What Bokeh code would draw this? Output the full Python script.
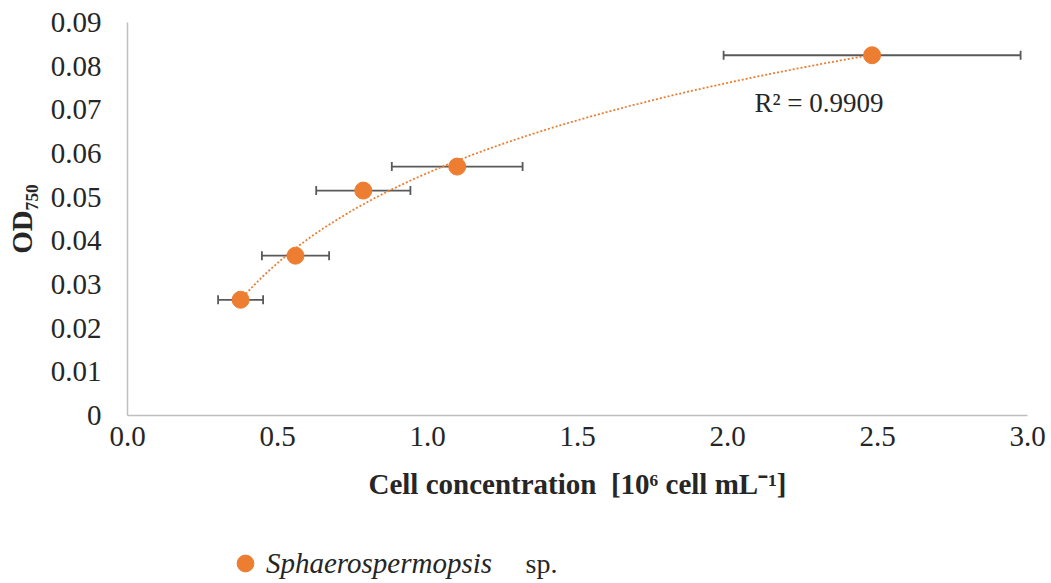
import numpy as np
from bokeh.plotting import figure
from bokeh.models import (ColumnDataSource, Whisker, TeeHead, Label, Legend, LegendItem,
                          FixedTicker, Range1d)
from bokeh.embed import file_html
from bokeh.resources import INLINE

# Cell concentration (10^6 cell/mL) with its standard deviation, and OD750
cell_conc = [0.377, 0.560, 0.786, 1.099, 2.482]
cell_sd = [0.075, 0.112, 0.157, 0.218, 0.495]
od750 = [0.0265, 0.0366, 0.0515, 0.0570, 0.0825]
series_name = "Sphaerospermopsis"
series_suffix = "sp."
r2_text = "R\u00b2 = 0.9909"
x_title = "Cell concentration\u00a0 [10\u2076 cell mL\u207b\u00b9]"
y_title = "OD\u2087\u2085\u2080"

x_ticks = [0.0, 0.5, 1.0, 1.5, 2.0, 2.5, 3.0]
y_ticks = [0.0, 0.01, 0.02, 0.03, 0.04, 0.05, 0.06, 0.07, 0.08, 0.09]
y_tick_labels = ["0", "0.01", "0.02", "0.03", "0.04", "0.05", "0.06", "0.07", "0.08", "0.09"]
X_MIN, X_MAX = 0.0, 3.0
Y_MIN, Y_MAX = 0.0, 0.09

ORANGE = "#ED7D31"
GREY = "#595959"
TEXT = "#262626"
SERIF = "Liberation Serif"

# Page geometry: the data area sits inside the canvas with room for
# tick labels, titles and the legend; the axes are pinned at zero.
W, H = 1051, 583
PLOT_L, PLOT_R, PLOT_T, PLOT_B = 127, 1027, 22, 415
x_scale = (PLOT_R - PLOT_L) / (X_MAX - X_MIN)
y_scale = (PLOT_B - PLOT_T) / (Y_MAX - Y_MIN)
x_range = Range1d(X_MIN - PLOT_L / x_scale, X_MAX + (W - PLOT_R) / x_scale)
y_range = Range1d(Y_MIN - (H - PLOT_B) / y_scale, Y_MAX + PLOT_T / y_scale)

src = ColumnDataSource(dict(
    x=cell_conc, y=od750,
    lo=[c - s for c, s in zip(cell_conc, cell_sd)],
    hi=[c + s for c, s in zip(cell_conc, cell_sd)],
))

p = figure(width=W, height=H, output_backend="svg", toolbar_location=None,
           x_range=x_range, y_range=y_range, min_border=0,
           min_border_left=0, min_border_right=0, min_border_top=0, min_border_bottom=0)
p.outline_line_color = None
p.xgrid.visible = False
p.ygrid.visible = False
p.background_fill_color = "white"
p.border_fill_color = "white"

for ax in (p.xaxis[0], p.yaxis[0]):
    ax.fixed_location = 0
    ax.axis_line_color = "#BFBFBF"
    ax.axis_line_width = 1.5
    ax.major_tick_line_color = None
    ax.minor_tick_line_color = None
    ax.major_tick_out = 0
    ax.major_tick_in = 0
    ax.minor_tick_out = 0
    ax.major_label_text_font = SERIF
    ax.major_label_text_font_size = "29px"
    ax.major_label_text_color = TEXT
    ax.axis_label_text_font = SERIF
    ax.axis_label_text_font_style = "bold"
    ax.axis_label_text_color = TEXT

p.xaxis.bounds = (X_MIN, X_MAX)
p.xaxis.ticker = FixedTicker(ticks=x_ticks)
p.xaxis.major_label_overrides = {t: f"{t:.1f}" for t in x_ticks}
p.xaxis.major_label_standoff = 11
p.xaxis.axis_label = x_title
p.xaxis.axis_label_text_font_size = "29px"
p.xaxis.axis_label_standoff = 19

p.yaxis.bounds = (Y_MIN, Y_MAX)
p.yaxis.ticker = FixedTicker(ticks=y_ticks)
p.yaxis.major_label_overrides = dict(zip(y_ticks, y_tick_labels))
p.yaxis.major_label_standoff = 26
p.yaxis.axis_label = y_title
p.yaxis.axis_label_text_font_size = "29px"
p.yaxis.axis_label_standoff = 10

# Horizontal error bars
whisker = Whisker(source=src, base="y", lower="lo", upper="hi", dimension="width",
                  line_color=GREY, line_width=1.8,
                  upper_head=TeeHead(size=9, line_color=GREY, line_width=1.8),
                  lower_head=TeeHead(size=9, line_color=GREY, line_width=1.8))
p.add_layout(whisker)

# Logarithmic trend line fitted to the points
lx = np.log(np.array(cell_conc))
a, b = np.polyfit(lx, np.array(od750), 1)
xs = np.linspace(min(cell_conc), max(cell_conc), 200)
p.line(xs, a * np.log(xs) + b, line_color=ORANGE, line_width=1.8, line_dash="2 2")

pts = p.scatter("x", "y", source=src, size=17, fill_color=ORANGE, line_color=ORANGE)

p.add_layout(Label(x=2.305, y=0.0715, text=r2_text, text_font=SERIF, text_font_size="27px",
                   text_color=TEXT, text_align="center", text_baseline="middle"))

# Legend: italic genus name with its marker, then an upright "sp."
legend = Legend(items=[LegendItem(label=series_name, renderers=[pts])],
                location=(224, -1), orientation="horizontal", padding=0, margin=0,
                spacing=0, glyph_width=42, glyph_height=42, label_height=42,
                label_standoff=-9, label_text_font=SERIF, label_text_font_size="29px",
                label_text_font_style="italic", label_text_color=TEXT,
                border_line_color=None, background_fill_alpha=0)
p.add_layout(legend)
p.add_layout(Label(x=525, y=H - 563, x_units="screen", y_units="screen", text=series_suffix,
                   text_font=SERIF, text_font_size="28px", text_color=TEXT,
                   text_baseline="middle"))

open("out.html", "w").write(file_html(p, INLINE))
